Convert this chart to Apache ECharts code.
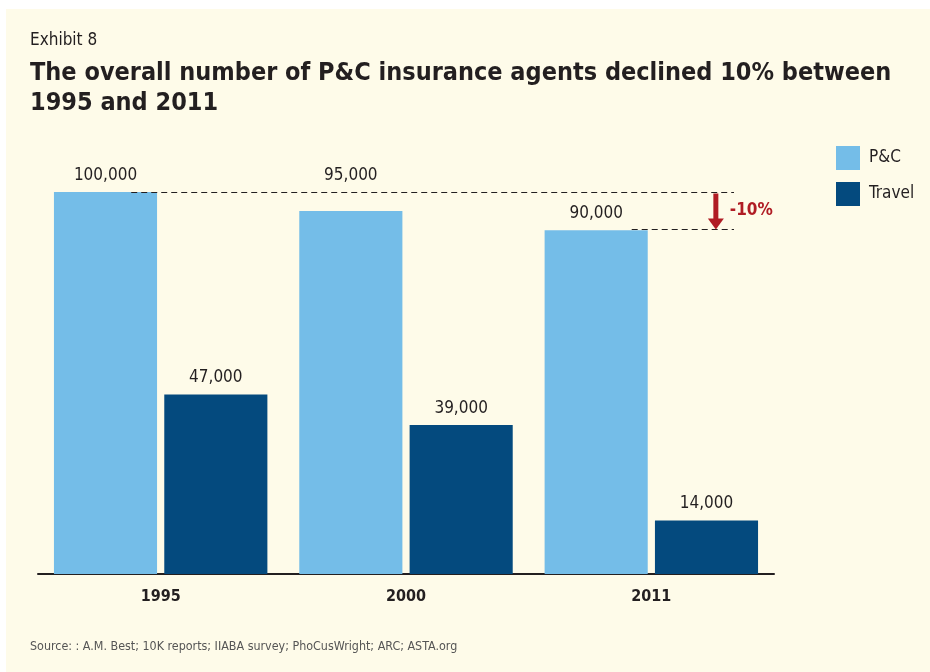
<!DOCTYPE html>
<html><head><meta charset="utf-8">
<script src="https://cdn.jsdelivr.net/npm/echarts@6/dist/echarts.min.js"></script>
<style>
html,body{margin:0;padding:0;background:#fff;}
#c{position:absolute;left:6px;top:9px;width:924px;height:663px;background:#FEFBE9;}
</style></head>
<body><div id="c"></div>
<script>
const categories = ['1995', '2000', '2011'];
const pcValues = [100000, 95000, 90000];
const travelValues = [47000, 39000, 14000];
const seriesNames = ['P&C', 'Travel'];
const changeLabel = '-10%';

const FONT = '"DejaVu Sans Condensed","Liberation Sans Narrow",Arial,sans-serif';
const fmt = v => v.toLocaleString('en-US');

// Labels that would collide with the dashed reference line are lifted above it.
const pcData = pcValues.map(v => (v < pcValues[0] && v > pcValues[0] * 0.93)
  ? {value: v, label: {offset: [0, -19]}} : v);

const chart = echarts.init(document.getElementById('c'), null, {renderer: 'canvas'});
const option = {
  backgroundColor: '#FEFBE9',
  textStyle: {fontFamily: FONT},
  title: [
    {text: 'Exhibit 8', left: 24, top: 23, padding: 0, textStyle: {fontFamily: FONT, fontSize: 17, fontWeight: 'normal', color: '#231F20'}},
    {text: 'The overall number of P&C insurance agents declined 10% between\n1995 and 2011', left: 24, top: 49, padding: 0,
     textStyle: {fontFamily: FONT, fontSize: 25, fontWeight: 'bold', color: '#231F20', lineHeight: 30}},
    {text: 'Source: : A.M. Best; 10K reports; IIABA survey; PhoCusWright; ARC; ASTA.org', left: 24, top: 632, padding: 0,
     textStyle: {fontFamily: FONT, fontSize: 12.4, fontWeight: 'normal', color: '#555'}}
  ],
  legend: {
    orient: 'vertical', left: 825, top: 132, itemWidth: 24, itemHeight: 24, itemGap: 12,
    icon: 'rect', textStyle: {fontFamily: FONT, fontSize: 17, color: '#231F20', padding: [0, 0, 0, 4]},
    data: seriesNames
  },
  grid: {left: 32, right: 156, top: 183, bottom: 98},
  xAxis: {
    type: 'category', data: categories,
    axisLine: {lineStyle: {color: '#231F20', width: 2}},
    axisTick: {show: false},
    axisLabel: {fontFamily: FONT, fontSize: 16, fontWeight: 'bold', color: '#231F20', margin: 15}
  },
  yAxis: {type: 'value', min: 0, max: 100000, show: false, splitLine: {show: false}},
  series: [
    {name: seriesNames[0], type: 'bar', data: pcData, barGap: '7%', barCategoryGap: '13%',
     itemStyle: {color: '#74BDE8'},
     label: {show: true, position: 'top', distance: 8, formatter: p => fmt(p.value), fontFamily: FONT, fontSize: 17, color: '#231F20'}},
    {name: seriesNames[1], type: 'bar', data: travelValues,
     itemStyle: {color: '#044A7E'},
     label: {show: true, position: 'top', distance: 8, formatter: p => fmt(p.value), fontFamily: FONT, fontSize: 17, color: '#231F20'}}
  ]
};
chart.setOption(option);

function drawAnnotation() {
  const bw = chart.getModel().getComponent('xAxis', 0).axis.getBandWidth();
  const cFirst = chart.convertToPixel({xAxisIndex: 0}, categories[0]);
  const cLast = chart.convertToPixel({xAxisIndex: 0}, categories[categories.length - 1]);
  const yHi = Math.round(chart.convertToPixel({yAxisIndex: 0}, pcValues[0])) + 0.5;
  const yLo = Math.round(chart.convertToPixel({yAxisIndex: 0}, pcValues[pcValues.length - 1])) - 0.5;
  const xEnd = cLast + bw * 0.337;
  const xArrow = cLast + bw * 0.263;
  const x1Start = cFirst - bw * 0.12;
  const x2Start = cLast - bw * 0.08;
  const dash = {stroke: '#231F20', lineWidth: 1, lineDash: [6, 4]};
  chart.setOption({graphic: [
    {type: 'line', shape: {x1: x1Start, y1: yHi, x2: xEnd, y2: yHi}, style: dash, z: 10},
    {type: 'line', shape: {x1: x2Start, y1: yLo, x2: xEnd, y2: yLo}, style: dash, z: 10},
    {type: 'rect', shape: {x: xArrow - 2.5, y: yHi + 1, width: 5, height: (yLo - yHi) - 10}, style: {fill: '#B01C24'}, z: 10},
    {type: 'polygon', shape: {points: [[xArrow - 8, yLo - 11], [xArrow + 8, yLo - 11], [xArrow, yLo]]}, style: {fill: '#B01C24'}, z: 10},
    {type: 'text', x: xArrow + 14, y: (yHi + yLo) / 2, style: {text: changeLabel, fill: '#B01C24', font: 'bold 17px ' + FONT, verticalAlign: 'middle'}, z: 10}
  ]});
}
drawAnnotation();
</script></body></html>
